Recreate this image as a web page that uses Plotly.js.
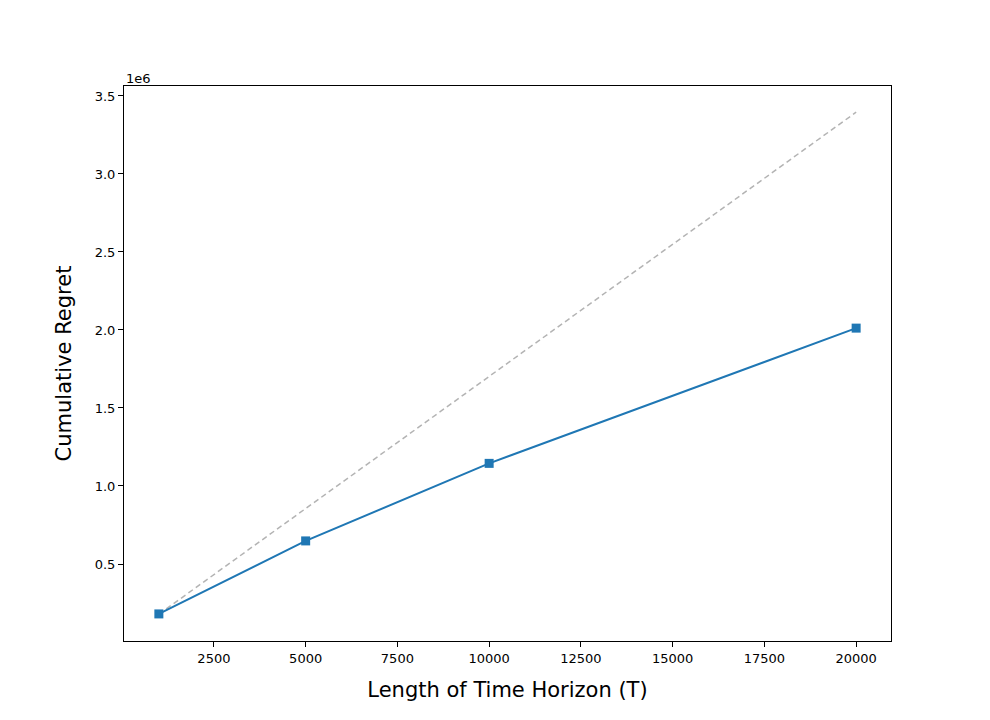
<!DOCTYPE html>
<html>
<head>
<meta charset="utf-8">
<script src="https://cdn.plot.ly/plotly-3.0.1.min.js"></script>
<style>html,body{margin:0;padding:0;background:#fff;}#chart{width:990px;height:720px;}</style>
</head>
<body>
<div id="chart"></div>
<script>
const horizons = [1000, 5000, 10000, 20000];
const regret = [180000, 648000, 1145000, 2012000];
const refHorizons = [1000, 20000];
const refRegret = [178000, 3396000];
const xTicks = [2500, 5000, 7500, 10000, 12500, 15000, 17500, 20000];
const yTicks = [500000, 1000000, 1500000, 2000000, 2500000, 3000000, 3500000];
const yTickText = ['0.5', '1.0', '1.5', '2.0', '2.5', '3.0', '3.5'];

const traces = [
  {
    x: refHorizons, y: refRegret, type: 'scatter', mode: 'lines',
    line: {color: 'rgba(128,128,128,0.6)', width: 1.5, dash: '5.5px,3.6px'},
    hoverinfo: 'skip', showlegend: false
  },
  {
    x: horizons, y: regret, type: 'scatter', mode: 'lines+markers',
    line: {color: '#1f77b4', width: 2},
    marker: {symbol: 'square', size: 9, color: '#1f77b4'},
    showlegend: false
  }
];

const font = {family: 'DejaVu Sans, sans-serif', color: '#000'};
const layout = {
  width: 990, height: 720,
  margin: {l: 124, r: 99, t: 86, b: 79},
  paper_bgcolor: '#fff', plot_bgcolor: '#fff',
  font: font,
  xaxis: {
    range: [50, 20950], tickvals: xTicks, ticktext: xTicks.map(String),
    showgrid: false, zeroline: false, showline: true, mirror: true,
    linecolor: '#000', linewidth: 1, ticks: 'outside', ticklen: 5, tickwidth: 1, tickcolor: '#000',
    tickfont: {size: 13, family: font.family, color: '#000'},
    title: {text: 'Length of Time Horizon (T)', font: {size: 21, family: font.family, color: '#000'}, standoff: 17},
    automargin: false
  },
  yaxis: {
    range: [6400, 3564000], tickvals: yTicks, ticktext: yTickText,
    showgrid: false, zeroline: false, showline: true, mirror: true,
    linecolor: '#000', linewidth: 1, ticks: 'outside', ticklen: 5, tickwidth: 1, tickcolor: '#000',
    tickfont: {size: 13, family: font.family, color: '#000'},
    title: {text: 'Cumulative Regret', font: {size: 21, family: font.family, color: '#000'}, standoff: 17},
    automargin: false
  },
  annotations: [{
    text: '1e6', xref: 'paper', yref: 'paper', x: 0, y: 1, xanchor: 'left', yanchor: 'bottom',
    yshift: -2, showarrow: false, font: {size: 13, family: font.family, color: '#000'}
  }]
};

Plotly.newPlot('chart', traces, layout, {displayModeBar: false, staticPlot: true});
</script>
</body>
</html>
